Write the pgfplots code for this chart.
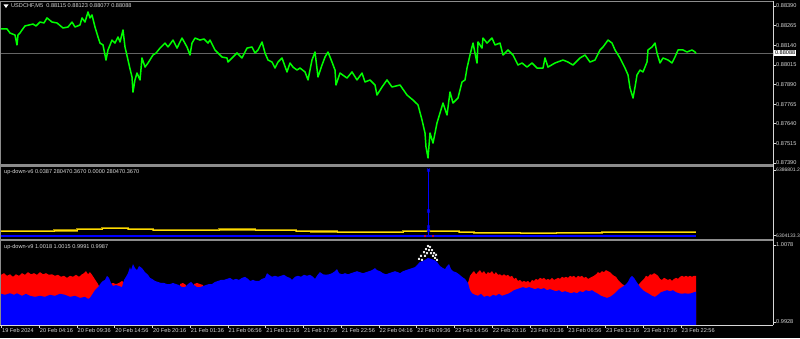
\documentclass[border=0pt]{standalone}
\usepackage{pgfplots}
\pgfplotsset{compat=1.18}
\usepackage{fontspec}
\setmainfont{Liberation Sans}
\definecolor{mtgreen}{RGB}{0,255,0}
\definecolor{mtblue}{RGB}{0,0,255}
\definecolor{mtred}{RGB}{255,0,0}
\definecolor{mtsep}{RGB}{140,140,140}
\definecolor{mtbid}{RGB}{100,100,100}
\definecolor{mtlabel}{RGB}{215,215,215}
\definecolor{mtyellow}{RGB}{255,220,0}
\definecolor{mtolive}{RGB}{165,140,0}
\newcommand{\mtfont}{\fontsize{5.6bp}{6bp}\selectfont}
\pgfplotsset{mtaxis/.style={scale only axis, width=772bp, xmin=1, xmax=773,
  axis line style={draw=none}, clip mode=individual,
  scaled y ticks=false, scaled x ticks=false,
  tick style={draw=mtlabel, line width=0.6bp}, major tick length=2.5bp, tick align=outside,
  yticklabel pos=right, ytick pos=right, xtick=\empty,
  ticklabel style={font=\mtfont, text=mtlabel, inner sep=0pt},
  yticklabel style={anchor=west, xshift=0.5bp}}}
\begin{document}
\begin{tikzpicture}[x=1bp,y=1bp]
\fill[black] (0,0) rectangle (800,338);
\useasboundingbox (0,0) rectangle (800,338);
% ---------------- price panel
\begin{axis}[mtaxis, at={(1bp,174bp)}, anchor=south west, height=162bp,
  ymin=0.873837, ymax=0.884155,
  ytick={0.87390,0.87515,0.87640,0.87765,0.87890,0.88015,0.88140,0.88265,0.88390},
  yticklabels={0.87390,0.87515,0.87640,0.87765,0.87890,0.88015,0.88140,0.88265,0.88390}]
\addplot[mtbid, line width=0.9bp] coordinates {(1,0.88088) (773,0.88088)};
\addplot[mtgreen, line width=1.5bp, line join=round] coordinates {
(1,0.88244)(7,0.88244)(10,0.88218)(15,0.88205)(17,0.88142)(18,0.88205)(20,0.88218)(22,0.88237)(25,0.88263)
(33,0.88275)(36,0.88263)(40,0.88288)(44,0.88282)(47,0.88314)(52,0.88288)(57,0.88282)(63,0.88250)(68,0.88256)
(72,0.88288)(75,0.88256)(80,0.88269)(82,0.88314)(85,0.88288)(88,0.88352)(90,0.88314)(92,0.88333)(95,0.88256)
(98,0.88193)(100,0.88154)(103,0.88142)(106,0.88046)(108,0.88110)(112,0.88173)(115,0.88154)(118,0.88193)
(120,0.88161)(123,0.88237)(125,0.88129)(128,0.88046)(130,0.87990)(132,0.87938)(133,0.87842)(135,0.87920)
(137,0.87963)(140,0.87919)(142,0.88059)(145,0.88001)(148,0.88027)(153,0.88078)(156,0.88090)(160,0.88122)
(165,0.88154)(168,0.88129)(173,0.88173)(177,0.88122)(182,0.88186)(187,0.88129)(190,0.88078)(192,0.88154)
(195,0.88186)(200,0.88173)(204,0.88180)(208,0.88154)(210,0.88173)(215,0.88110)(222,0.88065)(227,0.88059)
(228,0.88033)(233,0.88065)(237,0.88091)(242,0.88059)(247,0.88122)(252,0.88129)(255,0.88091)(258,0.88110)
(262,0.88161)(265,0.88091)(268,0.88046)(272,0.88033)(275,0.87995)(278,0.88033)(282,0.88059)(287,0.87970)
(290,0.88027)(293,0.88001)(297,0.87982)(300,0.87995)(305,0.87970)(308,0.87919)(312,0.88046)(315,0.88097)
(318,0.87938)(322,0.88014)(325,0.88065)(328,0.88097)(332,0.88033)(335,0.87982)(336,0.87887)(340,0.87963)
(347,0.87931)(352,0.87970)(357,0.87919)(362,0.87963)(365,0.87906)(370,0.87919)(375,0.87887)(377,0.87823)
(382,0.87874)(387,0.87919)(392,0.87874)(400,0.87887)(407,0.87823)(413,0.87791)(418,0.87760)(422,0.87664)
(425,0.87581)(426,0.87492)(428,0.87422)(430,0.87581)(433,0.87517)(437,0.87645)(440,0.87709)(443,0.87772)
(447,0.87696)(450,0.87842)(453,0.87772)(458,0.87804)(462,0.87906)(465,0.87919)(467,0.87995)(470,0.88078)
(473,0.88154)(477,0.88027)(478,0.88161)(482,0.88122)(483,0.88186)(487,0.88154)(492,0.88186)(495,0.88142)
(500,0.88154)(503,0.88078)(508,0.88110)(513,0.88078)(518,0.88014)(522,0.88027)(527,0.88001)(532,0.88027)
(537,0.87995)(543,0.87995)(545,0.88059)(548,0.88001)(555,0.88027)(563,0.88046)(568,0.88033)(573,0.88014)
(580,0.88059)(585,0.88078)(590,0.88033)(595,0.88046)(600,0.88110)(603,0.88129)(608,0.88173)(612,0.88154)
(615,0.88110)(620,0.88059)(625,0.87995)(628,0.87951)(630,0.87868)(633,0.87804)(635,0.87874)(637,0.87951)
(640,0.87982)(643,0.87970)(647,0.88033)(648,0.88110)(652,0.88129)(655,0.88154)(657,0.88091)(660,0.88027)
(663,0.88059)(668,0.88046)(672,0.88027)(675,0.88065)(678,0.88110)(683,0.88110)(687,0.88097)(692,0.88110)
(695,0.88097)(696,0.88088)};
\end{axis}
% ---------------- up-down-v6 panel
\begin{axis}[mtaxis, at={(1bp,99bp)}, anchor=south west, height=72bp,
  ymin=6299981, ymax=6390578,
  ytick={6304133.3,6386801.2}, yticklabels={6304133.3,6386801.2},
  yticklabel style={font=\fontsize{5bp}{6bp}\selectfont}]
\addplot[mtolive, line width=2.2bp, const plot] coordinates {
(1,6309670)(54,6310676)(77,6312564)(102,6313822)(128,6312564)(153,6311305)(219,6311935)(255,6311305)
(296,6310047)(311,6309418)(337,6308789)(403,6309670)(459,6308789)(474,6307908)(520,6307153)(556,6307908)
(602,6308789)(648,6308411)(696,6308411)};
\addplot[mtyellow, line width=0.9bp, const plot] coordinates {
(1,6310047)(54,6311305)(77,6312564)(102,6313822)(128,6312564)(153,6311305)(219,6311935)(255,6311305)
(296,6310047)(311,6309418)(337,6308789)(403,6309670)(459,6308789)(474,6307908)(520,6307153)(556,6307908)
(602,6308789)(648,6308411)(696,6308411)};
\addplot[mtblue, line width=1.3bp] coordinates {(1,6303756)(696,6303756)};
\addplot[mtblue, line width=0.7bp] coordinates {(428.5,6303756)(428.5,6386802)};
\addplot[mtblue, only marks, mark=x, mark size=2bp, mark options={line width=0.9bp}] coordinates {
(428.5,6386802)(428.5,6335213)(428.5,6315080)(428.5,6310676)};
\addplot[mtred, only marks, mark=x, mark size=1bp] coordinates {(425,6303756)(433,6303756)};
\end{axis}
% ---------------- up-down-v9 panel
\begin{axis}[mtaxis, at={(1bp,13bp)}, anchor=south west, height=84bp,
  ymin=0.992216, ymax=1.008579,
  ytick={0.9928,1.0078}, yticklabels={0.9928,1.0078},
  xtick={1.5,39.25,77,114.75,152.5,190.25,228,265.75,303.5,341.25,379,416.75,454.5,492.25,530,567.75,605.5,643.25,681},
  xticklabels={19 Feb 2024,20 Feb 04:16,20 Feb 09:36,20 Feb 14:56,20 Feb 20:16,21 Feb 01:36,21 Feb 06:56,21 Feb 12:16,21 Feb 17:36,21 Feb 22:56,22 Feb 04:16,22 Feb 09:36,22 Feb 14:56,22 Feb 20:16,23 Feb 01:36,23 Feb 06:56,23 Feb 12:16,23 Feb 17:36,23 Feb 22:56},
  xtick pos=left, xticklabel style={anchor=north west, xshift=0.5bp, yshift=-0.5bp}]
% red segments
\addplot[fill=mtred, draw=none] coordinates {
(1,1.0020)(4,1.0023)(7,1.0018)(10,1.0021)(13,1.0016)(16,1.0021)(19,1.0018)(22,1.0023)(25,1.0020)(28,1.0025)
(31,1.0021)(34,1.0023)(37,1.0020)(40,1.0025)(43,1.0021)(46,1.0023)(49,1.0020)(52,1.0021)(55,1.0018)(58,1.0020)
(61,1.0016)(64,1.0018)(67,1.0014)(70,1.0018)(73,1.0016)(76,1.0020)(79,1.0016)(82,1.0021)(84,1.0023)(86,1.0027)
(88,1.0021)(90,1.0025)(92,1.0020)(94,1.0014)(96,1.0008)(98,1.0002)(99,0.9998)} \closedcycle;
\addplot[fill=mtred, draw=none] coordinates {(110,1.0002)(113,1.0004)(116,1.0002)(119,1.0004)(122,1.0008)(124,1.0004)} \closedcycle;
\addplot[fill=mtred, draw=none] coordinates {(180,1.0002)(183,1.0004)(186,1.0000)} \closedcycle;
\addplot[fill=mtred, draw=none] coordinates {(194,1.0002)(197,1.0004)(200,1.0002)(203,1.0000)} \closedcycle;
\addplot[fill=mtred, draw=none] coordinates {
(468,1.0004)(470,1.0018)(472,1.0023)(474,1.0027)(476,1.0021)(478,1.0025)(480,1.0029)(482,1.0023)(484,1.0027)
(486,1.0021)(488,1.0025)(490,1.0023)(492,1.0027)(494,1.0021)(496,1.0025)(498,1.0020)(500,1.0021)(502,1.0018)
(504,1.0021)(506,1.0018)(508,1.0020)(510,1.0016)(512,1.0018)(514,1.0012)(516,1.0014)(518,1.0008)(520,1.0010)
(522,1.0006)(524,1.0008)(526,1.0006)(528,1.0008)(530,1.0004)(532,1.0010)(534,1.0008)(536,1.0012)(538,1.0010)
(540,1.0014)(542,1.0012)(544,1.0014)(546,1.0010)(548,1.0012)(550,1.0010)(552,1.0014)(554,1.0010)(556,1.0012)
(558,1.0014)(560,1.0012)(562,1.0016)(564,1.0014)(566,1.0016)(568,1.0014)(570,1.0018)(572,1.0016)(574,1.0018)
(576,1.0014)(578,1.0018)(580,1.0016)(582,1.0018)(584,1.0014)(586,1.0016)(588,1.0012)(590,1.0014)(592,1.0016)
(594,1.0018)(596,1.0021)(598,1.0025)(600,1.0023)(602,1.0027)(604,1.0025)(606,1.0029)(608,1.0027)(610,1.0025)
(612,1.0021)(614,1.0018)(616,1.0016)(618,1.0010)(620,1.0006)(622,1.0002)(624,1.0000)(625,0.9998)} \closedcycle;
\addplot[fill=mtred, draw=none] coordinates {
(638,1.0000)(640,1.0004)(642,1.0008)(644,1.0012)(646,1.0018)(648,1.0016)(650,1.0021)(652,1.0020)(654,1.0023)
(656,1.0021)(658,1.0018)(660,1.0012)(662,1.0010)(664,1.0014)(666,1.0012)(668,1.0010)(670,1.0012)(672,1.0008)
(674,1.0012)(676,1.0014)(678,1.0012)(680,1.0016)(682,1.0018)(684,1.0016)(686,1.0018)(688,1.0016)(690,1.0018)
(692,1.0016)(694,1.0018)(696,1.0018)} \closedcycle;
% blue area
\addplot[fill=mtblue, draw=none] coordinates {
(1,0.9983)(5,0.9981)(10,0.9984)(14,0.9981)(17,0.9984)(22,0.9979)(26,0.9983)(30,0.9979)(35,0.9977)(40,0.9979)
(45,0.9977)(50,0.9981)(55,0.9979)(60,0.9983)(65,0.9981)(70,0.9977)(75,0.9979)(80,0.9975)(85,0.9977)(88,0.9973)
(90,0.9975)(93,0.9984)(95,0.9990)(97,0.9994)(99,0.9998)(100,1.0002)(103,1.0008)(105,1.0010)(107,1.0018)
(109,1.0014)(111,1.0004)(113,0.9998)(116,1.0000)(119,0.9998)(122,0.9996)(124,1.0010)(126,1.0016)(128,1.0023)
(130,1.0035)(131,1.0029)(133,1.0041)(135,1.0033)(137,1.0029)(139,1.0037)(142,1.0033)(145,1.0025)(148,1.0020)
(150,1.0014)(152,1.0012)(155,1.0008)(158,1.0006)(161,1.0004)(164,1.0004)(167,1.0002)(170,1.0002)(173,1.0004)
(176,1.0002)(179,1.0000)(182,0.9996)(185,0.9996)(188,1.0002)(191,1.0006)(194,1.0000)(197,0.9996)(200,0.9996)
(203,0.9998)(206,1.0000)(209,1.0002)(212,1.0002)(215,1.0006)(218,1.0008)(221,1.0010)(224,1.0010)(227,1.0012)
(230,1.0014)(233,1.0010)(236,1.0012)(239,1.0010)(242,1.0014)(245,1.0016)(248,1.0012)(250,1.0008)(253,1.0010)
(256,1.0008)(259,1.0008)(262,1.0012)(265,1.0014)(267,1.0023)(269,1.0020)(272,1.0016)(275,1.0018)(278,1.0016)
(281,1.0018)(284,1.0020)(287,1.0016)(290,1.0014)(292,1.0010)(295,1.0016)(298,1.0018)(301,1.0016)(304,1.0020)
(307,1.0018)(310,1.0020)(313,1.0016)(315,1.0012)(318,1.0021)(320,1.0025)(323,1.0021)(326,1.0020)(329,1.0021)
(332,1.0023)(335,1.0027)(337,1.0031)(339,1.0023)(342,1.0021)(345,1.0023)(348,1.0021)(351,1.0023)(354,1.0025)
(357,1.0027)(360,1.0025)(363,1.0023)(366,1.0025)(369,1.0027)(372,1.0029)(375,1.0033)(377,1.0029)(380,1.0027)
(383,1.0023)(386,1.0021)(389,1.0023)(392,1.0025)(395,1.0027)(398,1.0025)(400,1.0023)(403,1.0027)(406,1.0029)
(409,1.0031)(412,1.0033)(415,1.0035)(418,1.0041)(420,1.0045)(423,1.0047)(425,1.0049)(428,1.0053)(431,1.0051)
(434,1.0049)(437,1.0045)(440,1.0037)(443,1.0033)(445,1.0031)(447,1.0037)(449,1.0041)(451,1.0031)(453,1.0027)
(456,1.0025)(459,1.0021)(462,1.0016)(465,1.0012)(468,1.0004)(470,0.9990)(472,0.9984)(475,0.9981)(478,0.9979)
(481,0.9983)(484,0.9977)(487,0.9979)(490,0.9977)(493,0.9981)(496,0.9979)(499,0.9983)(502,0.9979)(505,0.9981)
(508,0.9983)(511,0.9986)(514,0.9990)(517,0.9992)(520,0.9994)(523,0.9996)(526,0.9994)(529,0.9996)(532,0.9994)
(535,0.9992)(538,0.9994)(541,0.9992)(544,0.9994)(547,0.9990)(550,0.9992)(553,0.9990)(556,0.9988)(559,0.9990)
(562,0.9986)(565,0.9988)(568,0.9986)(571,0.9984)(574,0.9986)(577,0.9984)(580,0.9988)(583,0.9986)(586,0.9990)
(589,0.9988)(592,0.9990)(595,0.9986)(598,0.9983)(601,0.9979)(604,0.9977)(607,0.9975)(610,0.9977)(613,0.9981)
(616,0.9986)(619,0.9992)(622,0.9996)(625,1.0000)(628,1.0006)(630,1.0014)(632,1.0018)(634,1.0014)(636,1.0008)
(638,1.0002)(640,0.9996)(643,0.9990)(646,0.9986)(649,0.9983)(652,0.9979)(655,0.9977)(658,0.9981)(661,0.9986)
(664,0.9988)(667,0.9990)(670,0.9988)(673,0.9990)(676,0.9986)(679,0.9984)(682,0.9983)(685,0.9984)(688,0.9983)
(691,0.9984)(694,0.9986)(696,0.9987)} \closedcycle;
\addplot[white, only marks, mark=x, mark size=1.3bp, mark options={line width=0.7bp}] coordinates {
(419,1.0051)(421,1.0057)(422,1.0049)(424,1.0064)(425,1.0057)(426,1.0070)(427,1.0062)(428,1.0076)(429,1.0068)
(430,1.0074)(431,1.0062)(432,1.0068)(433,1.0057)(434,1.0062)(435,1.0053)(436,1.0059)(437,1.0049)};
\end{axis}
% frame and separators
\draw[mtsep, line width=0.8bp] (0.5,13) -- (0.5,336.5) -- (773,336.5);
\draw[mtlabel, line width=0.8bp] (773,13) -- (773,336.5);
\draw[mtlabel, line width=0.8bp] (0.5,13) -- (773,13);
\fill[mtsep] (0,171.5) rectangle (773,174);
\fill[mtsep] (0,97) rectangle (773,99.2);
% texts
\fill[white] (3.5,333.5) -- (8.5,333.5) -- (6,330) -- cycle;
\node[anchor=west, inner sep=0pt, text=mtlabel, font=\mtfont] at (11,332) {USDCHF,M5\ \ 0.88115 0.88123 0.88077 0.88088};
\node[anchor=west, inner sep=0pt, text=mtlabel, font=\mtfont] at (4,166) {up-down-v6 0.0387 280470.3670 0.0000 280470.3670};
\node[anchor=west, inner sep=0pt, text=mtlabel, font=\mtfont] at (4,91) {up-down-v9 1.0018 1.0015 0.9991 0.9987};
\node[anchor=west, fill=white, text=black, inner sep=0.8bp, font=\mtfont] at (774,285) {0.88088};
\end{tikzpicture}
\end{document}
